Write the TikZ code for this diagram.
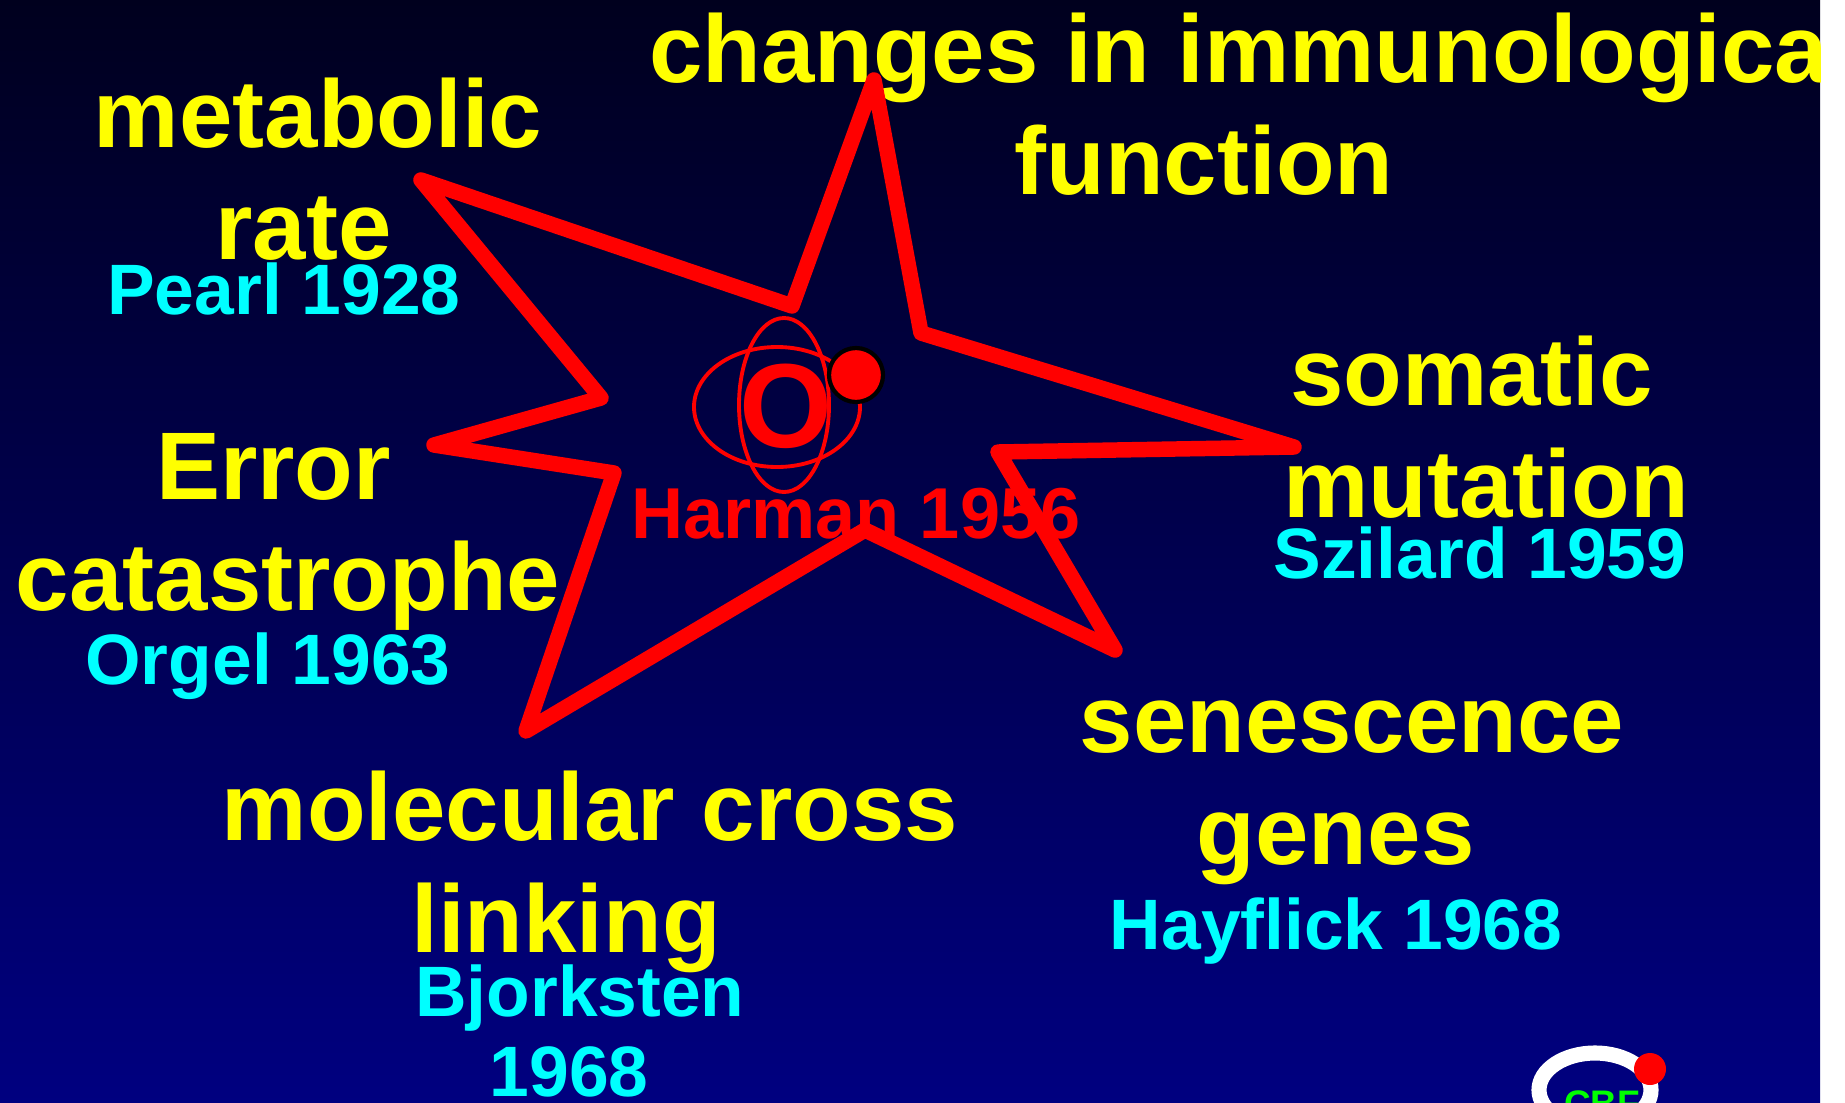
\documentclass[tikz,border=0pt]{standalone}
\usepackage{fontspec}
\setmainfont{Liberation Sans}
\definecolor{topicyellow}{RGB}{255,255,0}
\definecolor{authorcyan}{RGB}{0,255,255}
\definecolor{logogreen}{RGB}{0,255,0}
\definecolor{starred}{RGB}{255,0,0}
\definecolor{skytop}{RGB}{0,0,30}
\definecolor{skybottom}{RGB}{0,0,128}
\newcommand{\trail}[1]{\hspace{#1em}\null}
\begin{document}
\begin{tikzpicture}[
    x=0.01cm, y=-0.01cm,
    topic/.style={text=topicyellow, align=center, inner sep=0pt, font=\bfseries\fontsize{27.3}{31.8}\selectfont},
    author/.style={text=authorcyan, align=center, inner sep=0pt, font=\bfseries\fontsize{20.3}{23}\selectfont},
    burst/.style={draw=starred, line width=4.4pt, line join=round, line cap=round},
    orbit/.style={draw=starred, line width=1.1pt}
]
\useasboundingbox (0,0) rectangle (1845,1103);
\begin{scope}
\clip (0,0) rectangle (1820,1103);

% Background
\shade[top color=skytop, bottom color=skybottom] (0,0) rectangle (1820,1103);

% Topics
\node[topic] (metabolic) at (318,169) {metabolic\\rate\trail{0.3}};
\node[topic] (immune) at (1252,104) {changes in immunological\\function\trail{1}};
\node[topic] (somatic) at (1486,427) {somatic\trail{0.3}\\mutation};
\node[topic] (error) at (288,532) {Error\trail{0.3}\\catastrophe};
\node[topic] (senescence) at (1352,793) {senescence\\genes\trail{0.34}};
\node[topic] (crosslink) at (590,872) {molecular cross\\linking\trail{0.5}};

% Authors
\node[author] (pearl) at (284,289) {Pearl 1928};
\node[author] (szilard) at (1480,553) {Szilard 1959};
\node[author] (orgel) at (268,666) {Orgel 1963};
\node[author] (hayflick) at (1336,931) {Hayflick 1968};
\node[author] (bjorksten) at (580,1031) {Bjorksten\\1968\trail{0.3}};
\node[text=starred, inner sep=0pt, font=\bfseries\fontsize{20.5}{23}\selectfont] (harman) at (856,514) {Harman 1956};

% Star
\draw[burst] (874,80) -- (921,333) -- (1294,447) -- (998,452) -- (1115,650) -- (865,530)
    -- (526,731) -- (614,473) -- (434,445) -- (601,398) -- (421,180) -- (792,306) -- cycle;

% Oxygen atom
\node[text=starred, inner sep=0pt, font=\bfseries\fontsize{34}{40}\selectfont] (oxygen) at (786,406) {O};
\draw[orbit] (777,407) ellipse (83 and 60);
\draw[orbit] (784,405) ellipse (45 and 87);
\node[circle, fill=starred, draw=black, line width=1.2pt, minimum size=54*0.01cm, inner sep=0pt] (electron) at (856,375) {};

% Logo
\draw[white, line width=4.3pt] (1595,1090) ellipse (56 and 37);
\node[text=logogreen, inner sep=0pt, font=\bfseries\fontsize{10.5}{12}\selectfont] (logotext) at (1602,1104) {CBF};
\node[circle, fill=starred, minimum size=32*0.01cm, inner sep=0pt] (logodot) at (1650,1069) {};
\end{scope}
\end{tikzpicture}
\end{document}
